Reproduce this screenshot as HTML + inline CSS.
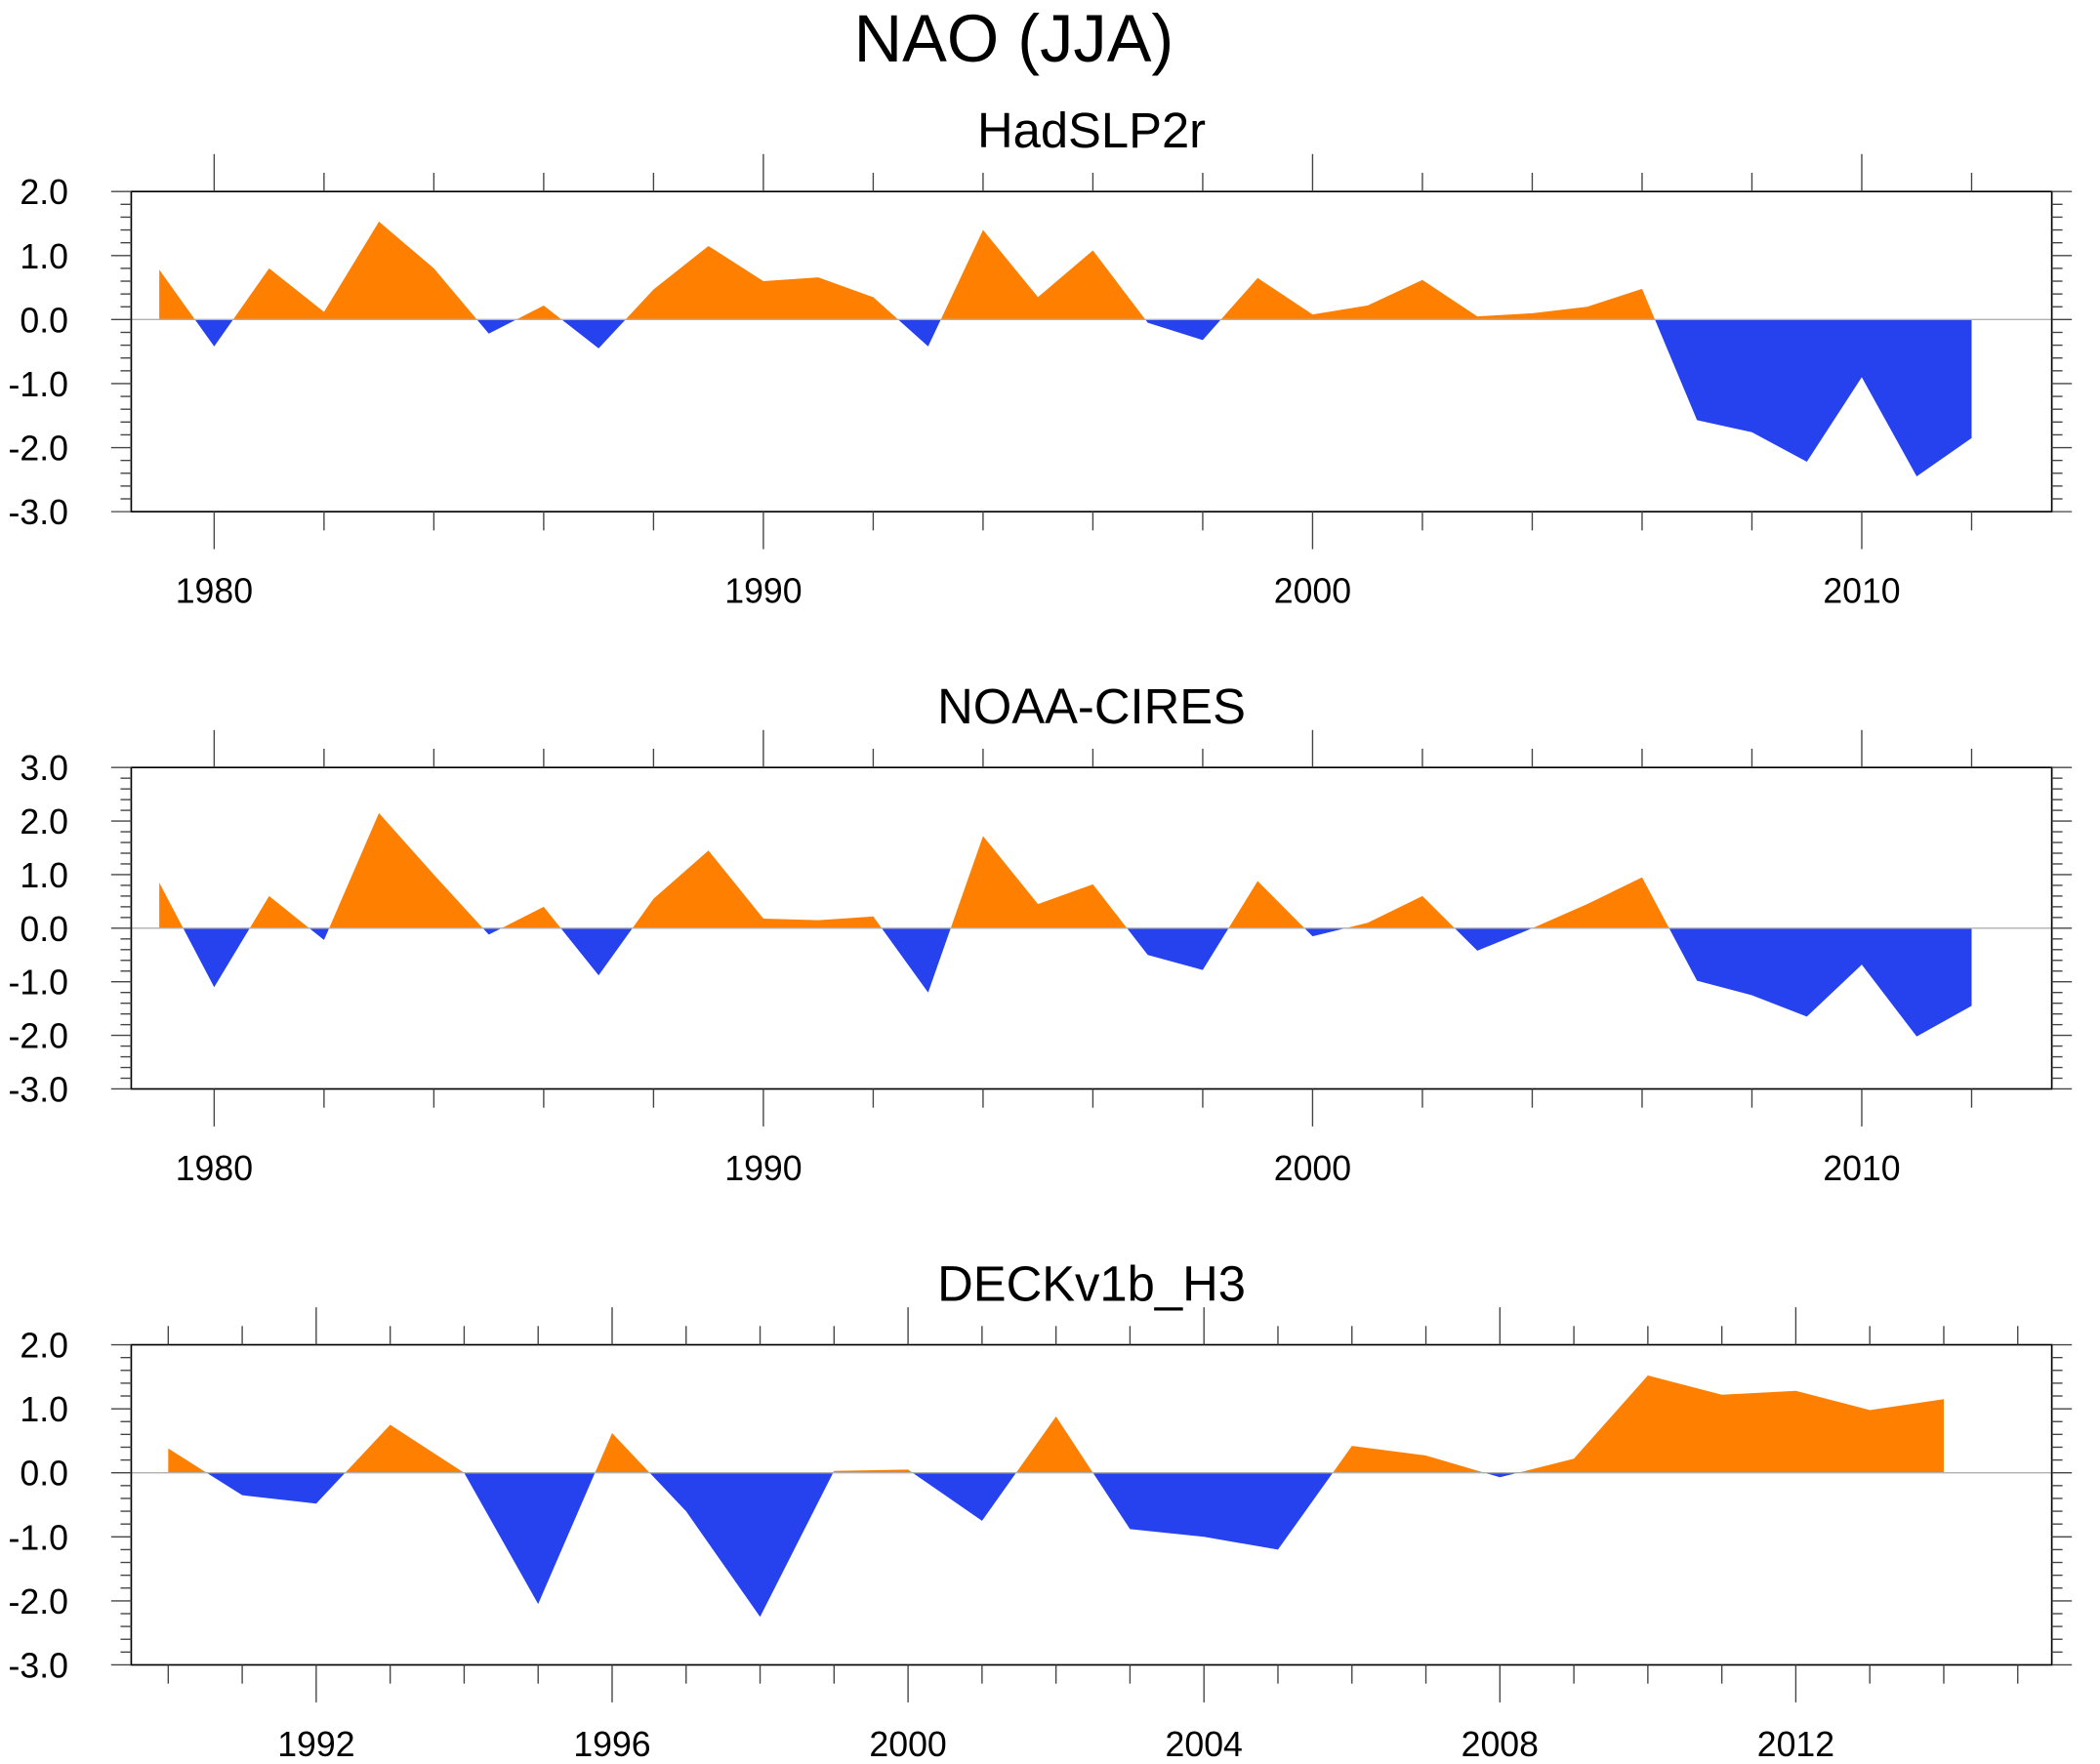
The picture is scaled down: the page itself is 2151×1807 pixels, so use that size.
<!DOCTYPE html>
<html><head><meta charset="utf-8">
<style>html,body{margin:0;padding:0;background:#fff}svg{display:block}</style></head>
<body>
<svg id="chart" width="2151" height="1807" viewBox="0 0 1568 1317" preserveAspectRatio="none" xmlns="http://www.w3.org/2000/svg" font-family="Liberation Sans, sans-serif">
<rect width="1568" height="1317" fill="#fff"/>
<text x="757" y="46" font-size="50" text-anchor="middle">NAO (JJA)</text>
</svg>
<script>
const years1 = [1979,1980,1981,1982,1983,1984,1985,1986,1987,1988,1989,1990,1991,1992,1993,1994,1995,1996,1997,1998,1999,2000,2001,2002,2003,2004,2005,2006,2007,2008,2009,2010,2011,2012];
const hadslp = [0.78,-0.42,0.8,0.12,1.53,0.8,-0.22,0.22,-0.45,0.47,1.15,0.6,0.66,0.35,-0.42,1.4,0.35,1.08,-0.05,-0.32,0.65,0.08,0.22,0.62,0.05,0.1,0.2,0.48,-1.57,-1.76,-2.22,-0.9,-2.45,-1.85];
const noaa = [0.85,-1.1,0.6,-0.22,2.15,1.0,-0.12,0.4,-0.88,0.55,1.45,0.18,0.15,0.22,-1.2,1.72,0.45,0.82,-0.5,-0.78,0.88,-0.15,0.1,0.6,-0.42,0.0,0.45,0.95,-0.98,-1.25,-1.65,-0.68,-2.02,-1.45];
const years3 = [1990,1991,1992,1993,1994,1995,1996,1997,1998,1999,2000,2001,2002,2003,2004,2005,2006,2007,2008,2009,2010,2011,2012,2013,2014];
const deck = [0.38,-0.35,-0.48,0.75,0.0,-2.05,0.62,-0.6,-2.25,0.03,0.05,-0.75,0.88,-0.88,-1.0,-1.2,0.42,0.27,-0.07,0.22,1.52,1.22,1.28,0.98,1.15];
const ticks12 = [1980,1990,2000,2010];
const ticks3 = [1992,1996,2000,2004,2008,2012];

const NS='http://www.w3.org/2000/svg';
const svg=document.getElementById('chart');
function el(tag,attrs,parent){const e=document.createElementNS(NS,tag);for(const k in attrs)e.setAttribute(k,attrs[k]);(parent||svg).appendChild(e);return e;}

function panel(cfg){
  const L=98,R=1532,T=cfg.top,B=cfg.bottom;
  const g=el('g',{});
  
  
  const xs=v=>L+(v-cfg.x0)/(cfg.x1-cfg.x0)*(R-L);
  const ys=v=>T+(cfg.y1-v)/(cfg.y1-cfg.y0)*(B-T);
  const t=el('text',{x:815,y:T-33,'font-size':37,'text-anchor':'middle'},g);
  t.textContent=cfg.title;
  
  
  const pts=[];
  for(let i=0;i<cfg.years.length;i++){
    const v=cfg.vals[i];
    if(i>0){const pv=cfg.vals[i-1];if((pv>0&&v<0)||(pv<0&&v>0)){const f=pv/(pv-v);pts.push([cfg.years[i-1]+f*(cfg.years[i]-cfg.years[i-1]),0]);}}
    pts.push([cfg.years[i],v]);
  }
  const x0=cfg.years[0],xn=cfg.years[cfg.years.length-1];
  function poly(fn,color,nm){
    let d='M'+xs(x0)+','+ys(0);
    pts.forEach(p=>{d+=' L'+xs(p[0]).toFixed(2)+','+ys(fn(p[1])).toFixed(2);});
    d+=' L'+xs(xn)+','+ys(0)+' Z';
    const p=el('path',{d:d,fill:color,stroke:'none'},g);
    
    
  }
  poly(v=>Math.max(v,0),'#ff8000',cfg.name+'-positive-area');
  poly(v=>Math.min(v,0),'#2641ee',cfg.name+'-negative-area');
  el('line',{x1:L,x2:R,y1:ys(0),y2:ys(0),stroke:'#b0b0b0','stroke-width':1},g);
  el('rect',{x:L,y:T,width:R-L,height:B-T,fill:'none',stroke:'#000','stroke-width':1.2},g);
  for(let yr=cfg.minorStart;yr<=cfg.x1;yr+=cfg.minorStep){
    const major=cfg.ticks.includes(yr);const len=major?28:14;const x=xs(yr);
    el('line',{x1:x,x2:x,y1:T,y2:T-len,stroke:'#444','stroke-width':1},g);
    el('line',{x1:x,x2:x,y1:B,y2:B+len,stroke:'#444','stroke-width':1},g);
  }
  cfg.ticks.forEach(yr=>{
    const tx=el('text',{x:xs(yr),y:B+68,'font-size':26,'text-anchor':'middle'},g);
    tx.textContent=yr;
    
    
  });
  for(let k=Math.round(cfg.y0*5);k<=Math.round(cfg.y1*5);k++){
    const v=k/5;const major=k%5===0;const len=major?15:8;const y=ys(v);
    el('line',{x1:L,x2:L-len,y1:y,y2:y,stroke:'#444','stroke-width':1},g);
    el('line',{x1:R,x2:R+len,y1:y,y2:y,stroke:'#444','stroke-width':1},g);
    if(major){
      const tx=el('text',{x:51,y:y+9.5,'font-size':26,'text-anchor':'end'},g);
      tx.textContent=v.toFixed(1);
      
      
    }
  }
}
panel({name:'hadslp2r',title:'HadSLP2r',top:143,bottom:382,y0:-3,y1:2,x0:1978.49,x1:2013.46,years:years1,vals:hadslp,ticks:ticks12,minorStart:1980,minorStep:2});
panel({name:'noaa-cires',title:'NOAA-CIRES',top:573,bottom:813,y0:-3,y1:3,x0:1978.49,x1:2013.46,years:years1,vals:noaa,ticks:ticks12,minorStart:1980,minorStep:2});
panel({name:'deckv1b-h3',title:'DECKv1b_H3',top:1004,bottom:1243,y0:-3,y1:2,x0:1989.5,x1:2015.46,years:years3,vals:deck,ticks:ticks3,minorStart:1990,minorStep:1});
</script>
</body></html>
